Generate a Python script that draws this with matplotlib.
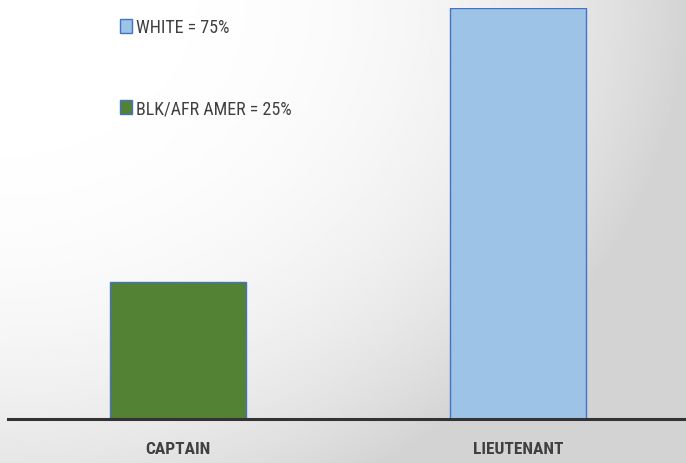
import matplotlib
matplotlib.use("Agg")
import matplotlib.pyplot as plt
from matplotlib import font_manager
from matplotlib.patches import Patch
import numpy as np

# --- data ---
ranks = ["CAPTAIN", "LIEUTENANT"]
percent = [25, 75]
bar_colors = ["#548235", "#9DC3E6"]
legend_labels = ["WHITE = 75%", "BLK/AFR AMER = 25%"]
legend_colors = ["#9DC3E6", "#548235"]

# pick a narrow font if one is installed
fonts = {(f.name, f.stretch) for f in font_manager.fontManager.ttflist}
names = {n for n, s in fonts}
stretch = "normal"
family = "DejaVu Sans"
for cand in ["Liberation Sans Narrow", "Roboto Condensed", "Open Sans Condensed",
             "Noto Sans Condensed", "DejaVu Sans Condensed"]:
    if cand in names:
        family = cand
        break
else:
    for n, s in fonts:
        if n in ("Roboto", "Open Sans", "Noto Sans", "DejaVu Sans", "Lato", "Inter") \
                and s in ("condensed", "semi-condensed", "extra-condensed", 75, 87, 62):
            family, stretch = n, s
            break
plt.rcParams['font.family'] = [family, 'DejaVu Sans']
plt.rcParams['font.stretch'] = stretch

fig = plt.figure(figsize=(6.86, 4.64), dpi=100)

# --- gradient background (white top-left -> grey right) ---
bg = fig.add_axes([0, 0, 1, 1], zorder=-1)
gx, gy = np.meshgrid(np.linspace(0, 1, 300), np.linspace(0, 1, 200))
s = np.minimum(1, gx ** 2 + 0.7 * gy ** 2)
shade = 255 - 43 * s ** 1.5
bg.imshow(shade, cmap="gray", vmin=0, vmax=255, aspect="auto",
          extent=[0, 1, 0, 1], origin="upper")
bg.axis("off")

W, H = 686, 464
ax = fig.add_axes([8 / W, (H - 420) / H, 678 / W, 411 / H])
ax.patch.set_alpha(0)

x = np.arange(len(ranks))
ax.bar(x, percent, width=0.4, color=bar_colors, edgecolor="#4472C4", linewidth=1.0)
ax.set_xlim(-0.5, 1.494)
ax.set_ylim(0, 75)

for side in ["top", "right", "left"]:
    ax.spines[side].set_visible(False)
ax.spines["bottom"].set_color("#333333")
ax.spines["bottom"].set_linewidth(2.2)
ax.set_yticks([])
ax.set_xticks(x)
ax.set_xticklabels(ranks, fontsize=12.5, fontweight="bold", color="#404040")
ax.tick_params(axis="x", length=0, pad=16)

handles = [Patch(facecolor=c, edgecolor="#4472C4", linewidth=1.0) for c in legend_colors]
leg = ax.legend(handles, legend_labels, loc="upper left",
                bbox_to_anchor=(105 / 678, 1.0 - 3 / 411), frameon=False,
                fontsize=13, labelspacing=3.5, handlelength=0.65, handleheight=0.8,
                handletextpad=0.2, borderaxespad=0)
for t in leg.get_texts():
    t.set_color("#404040")

fig.savefig("out.png", dpi=100)
